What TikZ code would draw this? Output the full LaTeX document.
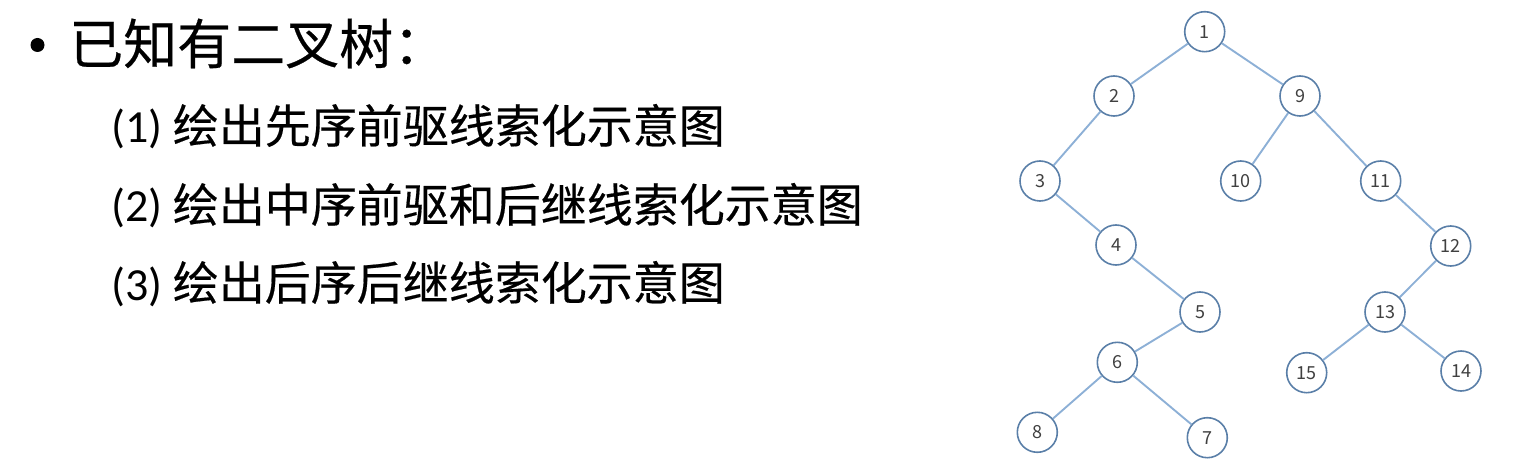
\documentclass[tikz,border=0pt]{standalone}
\usepackage{fontspec}
\setmainfont{Carlito}
\newfontfamily\cjk[FakeBold=0.4]{Noto Sans CJK SC}
\newfontfamily\numfont{Noto Sans CJK SC}
\definecolor{circ}{HTML}{5A7FA8}
\definecolor{edgec}{HTML}{8DB0D6}
\definecolor{numc}{HTML}{404040}
\begin{document}
\begin{tikzpicture}[x=1pt,y=-1pt,
  tn/.style={circle, draw=circ, line width=1.6pt, minimum size=40pt, inner sep=0pt,
    font=\numfont\fontsize{18}{18}\selectfont, text=numc, fill=white},
  ed/.style={draw=edgec, line width=1.9pt},
  txt/.style={anchor=base west, inner sep=0pt, text=black}]
\useasboundingbox (0,0) rectangle (1520,473);
% text
\node[circle, fill=black, minimum size=14pt, inner sep=0pt] (bul) at (37.5,45) {};
\node[txt] (t0) at (69,64) {\cjk\fontsize{54}{54}\selectfont 已知有二叉树：};
\node[txt] (s1) at (111,143) {\fontsize{46}{46}\selectfont (1) {\cjk 绘出先序前驱线索化示意图}};
\node[txt] (s2) at (111,222) {\fontsize{46}{46}\selectfont (2) {\cjk 绘出中序前驱和后继线索化示意图}};
\node[txt] (s3) at (111,300) {\fontsize{46}{46}\selectfont (3) {\cjk 绘出后序后继线索化示意图}};
% tree nodes
\node[tn] (n1) at (1204.7,31.7) {1};
\node[tn] (n2) at (1114,96) {2};
\node[tn] (n9) at (1300,96) {9};
\node[tn] (n3) at (1040,181) {3};
\node[tn] (n10) at (1240.7,181) {10};
\node[tn] (n11) at (1380.7,181) {11};
\node[tn] (n4) at (1116,245) {4};
\node[tn] (n12) at (1450.7,246) {12};
\node[tn] (n5) at (1200,312) {5};
\node[tn] (n13) at (1385,312) {13};
\node[tn] (n6) at (1117.3,362.3) {6};
\node[tn] (n15) at (1306.7,372.7) {15};
\node[tn] (n14) at (1461,371) {14};
\node[tn] (n8) at (1037.3,432.3) {8};
\node[tn] (n7) at (1207.3,437.7) {7};
% edges
\draw[ed] (n1) -- (n2);
\draw[ed] (n1) -- (n9);
\draw[ed] (n2) -- (n3);
\draw[ed] (n3) -- (n4);
\draw[ed] (n4) -- (n5);
\draw[ed] (n5) -- (n6);
\draw[ed] (n6) -- (n8);
\draw[ed] (n6) -- (n7);
\draw[ed] (n9) -- (n10);
\draw[ed] (n9) -- (n11);
\draw[ed] (n11) -- (n12);
\draw[ed] (n12) -- (n13);
\draw[ed] (n13) -- (n15);
\draw[ed] (n13) -- (n14);
\end{tikzpicture}
\end{document}
